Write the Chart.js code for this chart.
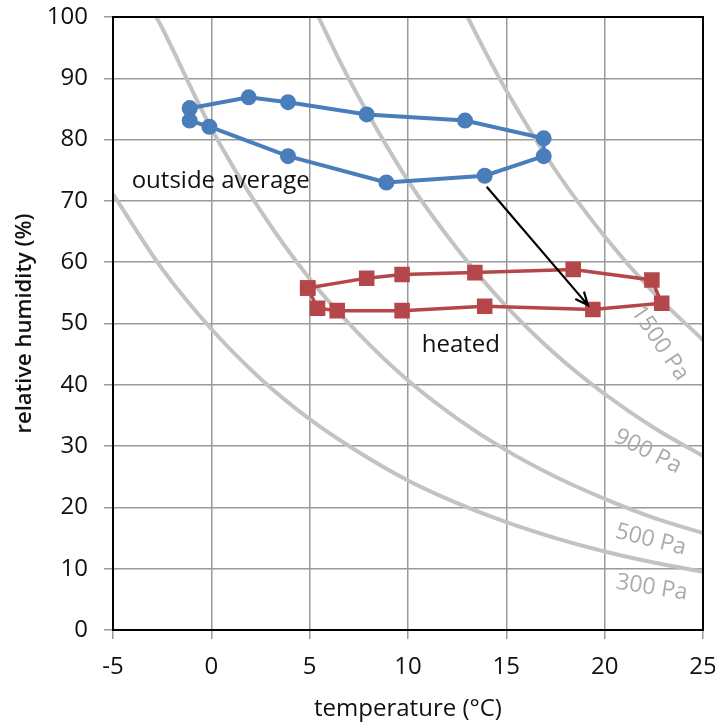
<!DOCTYPE html>
<html>
<head>
<meta charset="utf-8">
<script src="https://cdn.jsdelivr.net/npm/chart.js@4/dist/chart.umd.min.js"></script>
<style>
    html, body { margin: 0; padding: 0; background: #fff; }
    #wrap { width: 715px; height: 724px; }
</style>
</head>
<body>
<div id="wrap"><canvas id="rhChart" width="715" height="724"></canvas></div>
<script>
// outside average (monthly loop)
const outsideTemp = [-1.1, 1.9, 3.9, 7.9, 12.9, 16.9, 16.9, 13.9, 8.9, 3.9, -0.1, -1.1];
const outsideRh = [85.1, 86.9, 86.1, 84.1, 83.1, 80.2, 77.3, 74.1, 73.0, 77.3, 82.1, 83.1];

// heated indoor
const heatedTemp = [4.9, 7.9, 9.7, 13.4, 18.4, 22.4, 22.9, 19.4, 13.9, 9.7, 6.4, 5.4];
const heatedRh = [55.8, 57.4, 58.0, 58.3, 58.8, 57.1, 53.3, 52.3, 52.8, 52.1, 52.1, 52.5];

// constant vapour pressure lines
const x300 = [-5, -2.5, 0, 2.5, 5, 7.5, 10, 12.5, 15, 17.5, 20, 22.5, 25];
const rh300 = [71.1, 58.9, 49.1, 41.0, 34.4, 29.0, 24.4, 20.7, 17.6, 15.0, 12.8, 11.0, 9.5];
const x500 = [-2.8, -2.5, 0, 2.5, 5, 7.5, 10, 12.5, 15, 17.5, 20, 22.5, 25];
const rh500 = [100, 98.2, 81.8, 68.4, 57.3, 48.3, 40.7, 34.5, 29.3, 25.0, 21.4, 18.3, 15.8];
const x900 = [5.45, 6.5, 7.5, 10, 12.5, 15, 17.5, 20, 22.5, 25];
const rh900 = [100, 93.0, 86.9, 73.3, 62.2, 52.8, 45.0, 38.5, 33.0, 28.4];
const x1500 = [13.03, 14, 15, 17.5, 20, 22.5, 25];
const rh1500 = [100, 93.9, 88.0, 75.0, 64.2, 55.0, 47.3];

const curveLabels = ['1500 Pa', '900 Pa', '500 Pa', '300 Pa'];
const curveLabelX = [22.8, 22.2, 22.35, 22.4];
const curveLabelY = [46.8, 29.1, 14.7, 6.9];

const noteText = ['outside average', 'heated'];
const noteX = [-4.05, 10.7];
const noteY = [73.2, 46.5];

const arrowFrom = [14.0, 72.3];
const arrowTo = [19.15, 53.0];

const xTicks = [-5, 0, 5, 10, 15, 20, 25];

const FONT = "'Open Sans', 'DejaVu Sans', sans-serif";

function toPoints(xs, ys, close) {
    const pts = xs.map((x, i) => ({ x: x, y: ys[i] }));
    if (close) pts.push({ x: xs[0], y: ys[0] });
    return pts;
}

function curve(xs, ys) {
    return {
        data: toPoints(xs, ys, false),
        showLine: true,
        borderColor: '#c3c3c3',
        borderWidth: 4,
        pointRadius: 0,
        cubicInterpolationMode: 'monotone',
        fill: false,
    };
}

const extras = {
    id: 'extras',
    afterDatasetsDraw(chart) {
        const ctx = chart.ctx;
        const xs = chart.scales.x;
        const ys = chart.scales.y;
        const area = chart.chartArea;
        ctx.save();

        // frame
        ctx.strokeStyle = '#000';
        ctx.lineWidth = 2;
        ctx.strokeRect(area.left, area.top, area.right - area.left, area.bottom - area.top);

        // pressure labels
        const angles = [56, 27, 14, 9];
        ctx.fillStyle = '#ababab';
        ctx.font = '23px ' + FONT;
        ctx.textAlign = 'center';
        ctx.textBaseline = 'middle';
        curveLabels.forEach((t, i) => {
            ctx.save();
            ctx.translate(xs.getPixelForValue(curveLabelX[i]), ys.getPixelForValue(curveLabelY[i]));
            ctx.rotate(angles[i] * Math.PI / 180);
            ctx.fillText(t, 0, 0);
            ctx.restore();
        });

        // notes
        ctx.fillStyle = '#111';
        ctx.font = '24px ' + FONT;
        ctx.textAlign = 'left';
        noteText.forEach((t, i) => {
            ctx.fillText(t, xs.getPixelForValue(noteX[i]), ys.getPixelForValue(noteY[i]));
        });

        // arrow
        const x1 = xs.getPixelForValue(arrowFrom[0]);
        const y1 = ys.getPixelForValue(arrowFrom[1]);
        const x2 = xs.getPixelForValue(arrowTo[0]);
        const y2 = ys.getPixelForValue(arrowTo[1]);
        const a = Math.atan2(y2 - y1, x2 - x1);
        ctx.strokeStyle = '#000';
        ctx.lineWidth = 2.2;
        ctx.beginPath();
        ctx.moveTo(x1, y1);
        ctx.lineTo(x2, y2);
        ctx.moveTo(x2 - 14 * Math.cos(a - 0.42), y2 - 14 * Math.sin(a - 0.42));
        ctx.lineTo(x2, y2);
        ctx.lineTo(x2 - 14 * Math.cos(a + 0.42), y2 - 14 * Math.sin(a + 0.42));
        ctx.stroke();

        ctx.restore();
    },
};

new Chart(document.getElementById('rhChart'), {
    type: 'scatter',
    data: {
        datasets: [
            {
                label: 'outside average',
                data: toPoints(outsideTemp, outsideRh, true),
                showLine: true,
                borderColor: '#4a7ebb',
                backgroundColor: '#4a7ebb',
                borderWidth: 4,
                pointRadius: 6,
                pointHoverRadius: 6,
                pointStyle: 'circle',
            },
            {
                label: 'heated',
                data: toPoints(heatedTemp, heatedRh, true),
                showLine: true,
                borderColor: '#b5474a',
                backgroundColor: '#b5474a',
                borderWidth: 3.5,
                pointRadius: 8.5,
                pointHoverRadius: 8.5,
                pointStyle: 'rect',
            },
            curve(x300, rh300),
            curve(x500, rh500),
            curve(x900, rh900),
            curve(x1500, rh1500),
        ],
    },
    options: {
        responsive: false,
        animation: false,
        events: [],
        layout: { padding: { left: 0, right: 12, top: 17, bottom: 0 } },
        plugins: {
            legend: { display: false },
            tooltip: { enabled: false },
        },
        scales: {
            x: {
                type: 'linear',
                min: -5,
                max: 25,
                afterBuildTicks: (scale) => {
                    scale.ticks = xTicks.map((v) => ({ value: v }));
                },
                afterFit: (scale) => {
                    scale.height = 94;
                    scale.paddingLeft = 0;
                    scale.paddingRight = 0;
                },
                grid: { color: '#9a9a9a', lineWidth: 1.5, tickLength: 9 },
                border: { color: '#000', width: 2 },
                ticks: {
                    color: '#111',
                    padding: 14,
                    font: { family: FONT, size: 24 },
                },
                title: {
                    display: true,
                    text: 'temperature (°C)',
                    color: '#111',
                    font: { family: FONT, size: 24 },
                    padding: { top: 0, bottom: 0 },
                },
            },
            y: {
                min: 0,
                max: 100,
                afterFit: (scale) => {
                    scale.width = 113;
                    scale.paddingTop = 0;
                    scale.paddingBottom = 0;
                },
                grid: { color: '#9a9a9a', lineWidth: 1.5, tickLength: 9 },
                border: { color: '#000', width: 2 },
                ticks: {
                    stepSize: 10,
                    color: '#111',
                    padding: 16,
                    font: { family: FONT, size: 24 },
                },
                title: {
                    display: true,
                    text: 'relative humidity (%)',
                    color: '#111',
                    font: { family: FONT, size: 22, weight: '600' },
                    padding: { top: 12, bottom: 0 },
                },
            },
        },
    },
    plugins: [extras],
});
</script>
</body>
</html>
